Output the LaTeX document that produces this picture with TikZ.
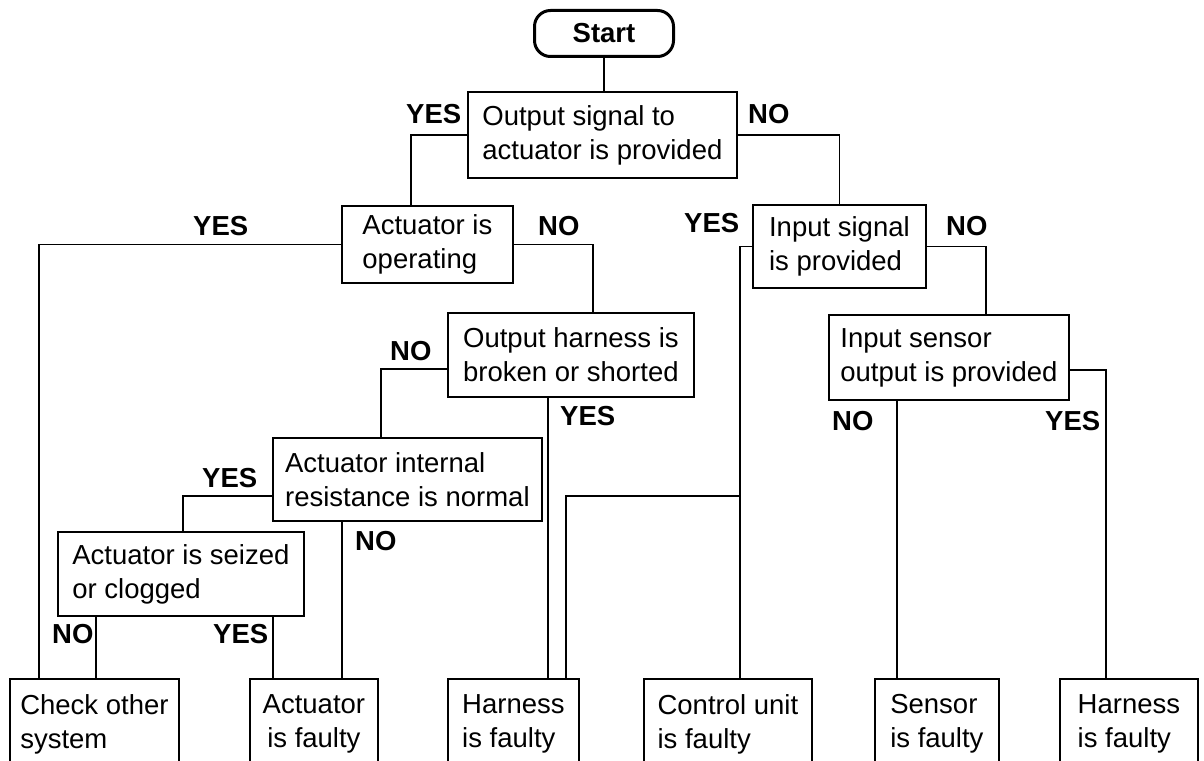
\documentclass[tikz,border=0pt]{standalone}
\usepackage{fontspec}
\setmainfont{Liberation Sans}
\usetikzlibrary{calc}
\begin{document}
\begin{tikzpicture}[x=1pt,y=-1pt,
  box/.style={draw, line width=1.8pt, anchor=north west, align=left, inner sep=0pt,
    font=\fontsize{27.5}{34}\selectfont},
  ans/.style={anchor=base west, inner sep=0pt, font=\bfseries\fontsize{27.5}{33}\selectfont},
  conn/.style={line width=1.6pt},
]
\useasboundingbox (0,0) rectangle (1204,760);
\clip (0,0) rectangle (1204,760);

% nodes
\node[box, minimum width=139pt, minimum height=46pt, rounded corners=16pt, line width=3pt,
  font=\bfseries\fontsize{27.5}{33}\selectfont] (start) at (533,9) {Start};
\node[box, minimum width=269pt, minimum height=86pt] (out) at (467,91) {Output signal to\\actuator is provided};
\node[box, minimum width=171pt, minimum height=77pt] (aop) at (341,205) {Actuator is\\operating};
\node[box, minimum width=173pt, minimum height=83pt] (isig) at (752,204) {Input signal\\is provided};
\node[box, minimum width=246pt, minimum height=84pt] (oh) at (447,312) {Output harness is\\broken or shorted};
\node[box, minimum width=269pt, minimum height=83pt] (air) at (272,437) {Actuator internal\\resistance is normal};
\node[box, minimum width=246pt, minimum height=84pt] (seized) at (57,531) {Actuator is seized\\or clogged};
\node[box, minimum width=240pt, minimum height=85pt] (iso) at (828,314) {Input sensor\\output is provided};
\node[box, minimum width=169pt, minimum height=90pt] (check) at (9,678) {Check other\\system};
\node[box, minimum width=128pt, minimum height=90pt, align=center] (actf) at (249,678) {Actuator\\is faulty};
\node[box, minimum width=131pt, minimum height=90pt] (harn1) at (447,678) {Harness\\is faulty};
\node[box, minimum width=168pt, minimum height=90pt] (ctrl) at (643,678) {Control unit\\is faulty};
\node[box, minimum width=124pt, minimum height=90pt] (sens) at (874,678) {Sensor\\is faulty};
\node[box, minimum width=138pt, minimum height=90pt] (harn2) at (1059,678) {Harness\\is faulty};

% connectors
\draw[conn] (start.south) -- (start.south |- out.north);
\draw[conn] (out.west) -| ($(aop.north west)+(70,0)$);
\draw[conn] (out.east) -| (isig.north);
\draw[conn] (aop.west) -| ($(check.north west)+(30,0)$);
\draw[conn] (aop.east) -| ($(oh.north west)+(146,0)$);
\draw[conn] ($(oh.north west)+(0,57)$) -| ($(air.north west)+(109,0)$);
\draw[conn] ($(oh.south west)+(101,0)$) -- ($(harn1.north west)+(101,0)$);
\draw[conn] ($(air.north west)+(0,59)$) -| ($(seized.north west)+(126,0)$);
\draw[conn] ($(air.south west)+(70,0)$) -- ($(actf.north west)+(93,0)$);
\draw[conn] ($(seized.south west)+(39,0)$) -- ($(check.north west)+(87,0)$);
\draw[conn] ($(seized.south west)+(216,0)$) -- ($(actf.north west)+(24,0)$);
\draw[conn] (isig.west) -| ($(ctrl.north west)+(97,0)$);
\coordinate (j) at ($(ctrl.north west)+(97,-182)$);
\draw[conn] (j) -| ($(harn1.north west)+(119,0)$);
\draw[conn] (isig.east) -| ($(iso.north west)+(158,0)$);
\draw[conn] ($(iso.south west)+(69,0)$) -- ($(sens.north west)+(23,0)$);
\draw[conn] ($(iso.north east)+(0,56)$) -| ($(harn2.north west)+(47,0)$);

% labels
\node[ans] (l1) at (406,123) {YES};
\node[ans] (l2) at (748,123) {NO};
\node[ans] (l3) at (193,235) {YES};
\node[ans] (l4) at (538,235) {NO};
\node[ans] (l5) at (684,232) {YES};
\node[ans] (l6) at (946,235) {NO};
\node[ans] (l7) at (390,360) {NO};
\node[ans] (l8) at (560,425) {YES};
\node[ans] (l9) at (202,487) {YES};
\node[ans] (l10) at (355,550) {NO};
\node[ans] (l11) at (52,643) {NO};
\node[ans] (l12) at (213,643) {YES};
\node[ans] (l13) at (832,430) {NO};
\node[ans] (l14) at (1045,430) {YES};
\end{tikzpicture}
\end{document}
